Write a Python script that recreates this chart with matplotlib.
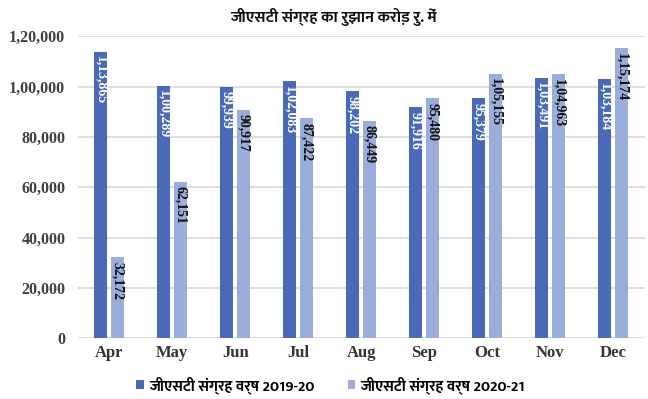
import matplotlib
matplotlib.use('Agg')
import matplotlib.pyplot as plt
import numpy as np

months = ['Apr', 'May', 'Jun', 'Jul', 'Aug', 'Sep', 'Oct', 'Nov', 'Dec']
gst_2019_20 = [113865, 100289, 99939, 102083, 98202, 91916, 95379, 103491, 103184]
gst_2020_21 = [32172, 62151, 90917, 87422, 86449, 95480, 105155, 104963, 115174]
yticks = [0, 20000, 40000, 60000, 80000, 100000, 120000]

title = 'जीएसटी संग्रह का रुझान करोड़ रु. में'
legend_labels = ['जीएसटी संग्रह वर्ष 2019-20', 'जीएसटी संग्रह वर्ष 2020-21']

hindi = ['Mukta', 'Ek Mukta', 'Noto Sans Devanagari', 'DejaVu Sans']
serif = ['Liberation Serif', 'DejaVu Serif']
dark = '#4a69b9'
light = '#9badda'


def indian(n):
    # indian digit grouping: 1,13,865
    s = str(int(n))
    if len(s) <= 3:
        return s
    head, tail = s[:-3], s[-3:]
    parts = []
    while len(head) > 2:
        parts.insert(0, head[-2:])
        head = head[:-2]
    if head:
        parts.insert(0, head)
    return ','.join(parts) + ',' + tail


fig = plt.figure(figsize=(6.48, 3.99), dpi=100)
ax = fig.add_axes([0.12, 0.152, 0.875, 0.757])

x = np.arange(len(months))
w = 0.21
b1 = ax.bar(x - 0.14, gst_2019_20, w, color=dark, zorder=2)
b2 = ax.bar(x + 0.135, gst_2020_21, w, color=light, zorder=2)

for rect, v in zip(b1, gst_2019_20):
    ax.text(rect.get_x() + rect.get_width() / 2, v - 1800, indian(v), rotation=270,
            ha='center', va='top', color='white', fontsize=10, fontweight='bold',
            family=serif, zorder=3)
for rect, v in zip(b2, gst_2020_21):
    ax.text(rect.get_x() + rect.get_width() / 2, v - 1800, indian(v), rotation=270,
            ha='center', va='top', color='#111111', fontsize=10, fontweight='bold',
            family=serif, zorder=3)

ax.set_ylim(0, 120000)
ax.set_xlim(-0.5, 8.5)
ax.set_yticks(yticks)
ax.set_yticklabels([indian(t) for t in yticks], family=serif, fontweight='bold',
                   fontsize=11.5, color='#404040')
ax.set_xticks(x)
ax.set_xticklabels(months, family=serif, fontweight='bold', fontsize=12, color='#333333')
ax.tick_params(length=0, axis='both')
ax.tick_params(axis='y', pad=9)
ax.tick_params(axis='x', pad=5)
for s in ax.spines.values():
    s.set_visible(False)
ax.grid(axis='y', color='#d9d9d9', linewidth=1.2, zorder=0)

fig.text(0.515, 0.958, title, ha='center', va='center', fontsize=11.5, fontweight='bold',
         family=hindi, color='#111111')

leg = fig.legend([b1, b2], legend_labels, loc='center', bbox_to_anchor=(0.51, 0.035),
                 ncol=2, frameon=False, prop={'family': hindi, 'weight': 'bold', 'size': 11},
                 handlelength=0.5, handleheight=0.5, handletextpad=0.3, columnspacing=2.2)

fig.savefig('out.png', dpi=100)
